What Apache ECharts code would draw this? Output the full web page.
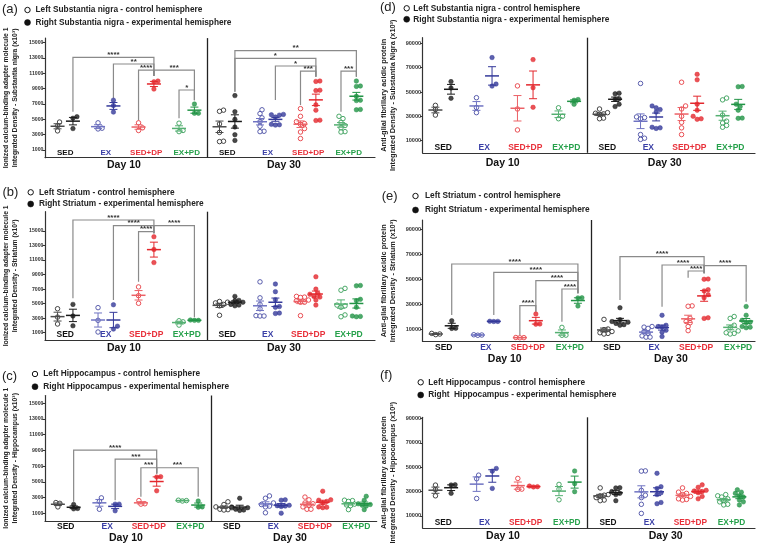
<!DOCTYPE html>
<html><head><meta charset="utf-8">
<script src="https://cdn.jsdelivr.net/npm/echarts@6/dist/echarts.min.js"></script>
<style>html,body{margin:0;padding:0;background:#fff}#c{width:758px;height:551px}</style>
</head><body><div id="c"></div>
<script>
// ================= DATA =================
const groupNames = ['SED', 'EX', 'SED+DP', 'EX+PD'];
const dayNames = ['Day 10', 'Day 30'];
const ibaTicks = [1000, 3000, 5000, 7000, 9000, 11000, 13000, 15000];
const gfapTicks = [10000, 30000, 50000, 70000, 90000];
// each array: Day10 SED, EX, SED+DP, EX+PD, Day30 SED, EX, SED+DP, EX+PD

// (a) Iba1 - Substantia nigra
const aLeft = [
  [4650, 4150, 3500], [4550, 3850, 3750], [4550, 3900, 3550], [4500, 3550, 3400],
  [6200, 6050, 4400, 3300, 2150, 2100], [6250, 5750, 5200, 4700, 4100, 3450, 3400],
  [6400, 5400, 4700, 4450, 4350, 3800, 3350, 2500], [5400, 5100, 4600, 4200, 3900, 3400, 3350]
];
const aRight = [
  [5350, 5150, 3800], [7500, 6800, 5950], [10000, 9900, 8950], [7000, 5800, 5800],
  [8100, 6000, 5000, 4000, 3000, 2250], [5650, 5600, 5550, 5300, 4350, 4300, 4250],
  [10000, 9950, 8800, 8750, 6900, 6200, 4900, 4850], [10000, 9350, 9300, 8000, 7500, 7450, 6300, 6250]
];
const aStars = ['****', '**', '****', '***', '*', '**', '*', '*', '***', '***'];

// (b) Iba1 - Striatum
const bLeft = [
  [4300, 3150, 2200], [4450, 2700, 1100], [7300, 6100, 5050], [2650, 2500, 2050],
  [5300, 5200, 5100, 4900, 4700, 3400], [8000, 5800, 4900, 4300, 3350, 3300, 3300],
  [6000, 5900, 5850, 5500, 5400, 5200, 5200, 3350], [7100, 6850, 4800, 4700, 4500, 3450, 3200]
];
const bRight = [
  [4900, 3300, 1950], [4850, 1900, 1500], [14200, 12450, 10650], [2750, 2700, 2700],
  [6000, 5450, 5400, 5200, 4900, 4800, 4700], [7700, 6650, 5550, 4600, 4500, 3700, 3650],
  [8700, 7000, 6400, 6300, 6000, 5900, 5500, 4800], [7500, 7450, 5600, 5400, 4500, 3300, 3250, 3200]
];
const bStars = ['****', '****', '****', '****'];

// (c) Iba1 - Hippocampus
const cLeft = [
  [2350, 2250, 1800], [2950, 2500, 1500], [2600, 2200, 2150], [2650, 2600, 2550],
  [2450, 2100, 1800, 1700, 1500, 1450, 1400], [3200, 2900, 2300, 2100, 1900, 1800, 1050],
  [3050, 2700, 2300, 2200, 2000, 1800, 1500, 1500], [2650, 2600, 2500, 2150, 2050, 1950, 1450]
];
const cRight = [
  [2100, 1600, 1550], [2150, 2150, 1300], [5650, 5600, 3850], [2550, 1800, 1750],
  [2900, 1800, 1700, 1500, 1400, 1350], [2700, 2650, 2000, 1950, 1900, 1850, 1000],
  [3800, 2700, 2650, 2500, 2300, 1800, 1750, 1700], [3150, 2650, 2200, 2100, 2000, 1900, 1450]
];
const cStars = ['****', '***', '***', '***'];

// (d) GFAP - Substantia nigra
const dLeft = [
  [39000, 35500, 31000], [45300, 37200, 33000], [55000, 36000, 18800], [37000, 30000, 28000],
  [36000, 33000, 32500, 32000, 31500, 28500, 28000], [57000, 29500, 29000, 28000, 15000, 12000, 11000],
  [58000, 38500, 36000, 30000, 25000, 20500, 15000], [45000, 43500, 31000, 26000, 24500, 22500, 21000]
];
const dRight = [
  [58500, 53300, 44800], [78300, 56500, 54800], [76600, 53500, 37400], [43800, 43200, 39900],
  [49000, 48500, 44500, 44000, 40000, 38000], [38500, 37000, 35500, 33500, 21000, 20500, 20000],
  [64500, 60000, 40000, 35000, 30000, 28000, 27500], [54500, 54300, 40000, 38000, 35000, 28500, 28300]
];

// (e) GFAP - Striatum
const eLeft = [
  [6500, 6000, 5500], [5400, 5200, 5000], [3200, 3100, 3000], [11300, 5100, 5000],
  [17700, 10000, 9500, 8000, 7000, 6500, 6000], [12000, 11500, 10500, 8000, 6500, 4500, 3500, 3500],
  [28500, 28200, 18500, 16000, 15000, 12000, 8700], [20000, 18500, 13000, 11000, 8500, 7000, 6500, 6000]
];
const eRight = [
  [16600, 10600, 10500], [16200, 16100, 16000], [22000, 14000, 13900], [35000, 34900, 28400],
  [27000, 17500, 16000, 15500, 14500, 13500, 13000], [21000, 13000, 12000, 11500, 9000, 7500, 4000],
  [50000, 49800, 41500, 40500, 37500, 35000, 19000, 18500], [28000, 21000, 17000, 15500, 15000, 12000, 11500, 11000]
];
const eStars = ['****', '****', '****', '****', '****', '****', '****', '****', '****'];

// (f) GFAP - Hippocampus
const fLeft = [
  [35300, 31500, 26500], [43500, 40500, 24300], [40800, 32000, 31800], [35900, 32000, 23200],
  [33000, 27500, 27000, 26500, 25000, 23000, 22500], [47000, 46800, 31000, 27000, 25000, 19500, 12000],
  [33000, 29500, 28500, 27500, 26000, 24000, 23500, 23000], [27500, 26500, 25500, 24000, 22500, 21500, 19500, 19000]
];
const fRight = [
  [35600, 35400, 28500], [49000, 46800, 32600], [34500, 34000, 33800], [46900, 36500, 29900],
  [33200, 33000, 30000, 28500, 27500, 22500], [45000, 34000, 32500, 29000, 27500, 21000, 20000],
  [35500, 33500, 31000, 30500, 30000, 29000, 26000, 24000], [31500, 29500, 28500, 26500, 25500, 23000, 21500, 19000]
];

// ================= TEXT =================
const ibaTitle = 'Ionized calcium-binding adapter molecule 1';
const gfapTitle = 'Anti-glial fibrillary acidic protein';
const texts = {
  a: { L: 'Left Substantia nigra - control hemisphere', R: 'Right Substantia nigra - experimental hemisphere', y: ibaTitle + '\nIntegrated Density - Substantia nigra (x10³)' },
  b: { L: 'Left Striatum - control hemisphere', R: 'Right Striatum - experimental hemisphere', y: ibaTitle + '\nIntegrated Density - Striatum (x10³)' },
  c: { L: 'Left Hippocampus - control hemisphere', R: 'Right Hippocampus - experimental hemisphere', y: ibaTitle + '\nIntegrated Density - Hippocampus (x10³)' },
  d: { L: 'Left Substantia nigra - control hemisphere', R: 'Right Substantia nigra - experimental hemisphere', y: gfapTitle + '\nIntegrated Density - Substantia Nigra (x10³)' },
  e: { L: 'Left Striatum - control hemisphere', R: 'Right Striatum - experimental hemisphere', y: gfapTitle + '\nIntegrated Density - Striatum (x10³)' },
  f: { L: 'Left Hippocampus - control hemisphere', R: 'Right  Hippocampus - experimental hemisphere', y: gfapTitle + '\nIntegrated Density - Hippocampus (x10³)' }
};

// ================= LAYOUT / STYLE =================
const FONT = '"Liberation Sans", Arial, Helvetica, sans-serif';
const COLORS = ['#1a1a1a', '#34399a', '#e3272d', '#229446'];
const OPEN_LINE = ['#4a4a4a', '#6f73c2', '#ec6166', '#55b072'];
const LABEL_COLORS = ['#111111', '#3a3fa6', '#e8303a', '#26a14b'];
const BRACKET_COLOR = '#8a8a8a';

// brackets: a/b = [day, group, side(0 left,1 right)], y = bar level, ya/yb = leg ends (axis units)
const layouts = {
  a: { left: 45, top: 38.1, width: 330, height: 119.6, xmax: 8.15, ymax: 15600, ticks: ibaTicks, tickFont: 5.2,
       inside: true, gMargin: 1, dMargin: 2, gFont: 8, titleFont: 6.8, nameGap: 26,
       letter: [2, 9], leg: [27.5, 35.5, 10, 22.5], legFont: 8.3,
       brackets: [
         { a: [0, 0, 1], b: [0, 2, 1], y: 13090, ya: 6000, yb: 10650 },
         { a: [0, 1, 1], b: [0, 2, 1], y: 12220, ya: 7740, yb: 10650 },
         { a: [0, 2, 0], b: [0, 2, 1], y: 11430, ya: 4900, yb: 10650 },
         { a: [0, 2, 1], b: [0, 3, 1], y: 11430, ya: 10650, yb: 7500 },
         { a: [0, 3, 0], b: [0, 3, 1], y: 8830, ya: 5130, yb: 7500 },
         { a: [1, 0, 1], b: [1, 3, 1], y: 13960, ya: 8610, yb: 10560 },
         { a: [1, 0, 1], b: [1, 2, 1], y: 12960, ya: 8610, yb: 10560 },
         { a: [1, 1, 1], b: [1, 2, 1], y: 11960, ya: 7520, yb: 10560 },
         { a: [1, 2, 0], b: [1, 2, 1], y: 11300, ya: 6870, yb: 10560 },
         { a: [1, 3, 0], b: [1, 3, 1], y: 11300, ya: 6000, yb: 10560 }
       ], stars: aStars },
  b: { left: 45, top: 211.7, width: 330, height: 128.3, xmax: 8.15, ymax: 17650, ticks: ibaTicks, tickFont: 5.2,
       inside: true, gMargin: 1, dMargin: 3, gFont: 8.5, titleFont: 6.8, nameGap: 26,
       letter: [2.5, 192.5], leg: [30.7, 39, 192.3, 204], legFont: 8.3,
       brackets: [
         { a: [0, 0, 1], b: [0, 2, 1], y: 16510, ya: 5730, yb: 14680 },
         { a: [0, 1, 1], b: [0, 2, 1], y: 15730, ya: 5500, yb: 14680 },
         { a: [0, 2, 0], b: [0, 2, 1], y: 14910, ya: 8030, yb: 14680 },
         { a: [0, 2, 1], b: [0, 3, 1], y: 15730, ya: 14680, yb: 3120 }
       ], stars: bStars },
  c: { left: 45, top: 395.5, width: 331.7, height: 125.5, xmax: 7.99, ymax: 16000, ticks: ibaTicks, tickFont: 5.2,
       inside: false, gMargin: 1, dMargin: 12, gFont: 8.5, titleFont: 6.8, nameGap: 26,
       letter: [2, 376.7], leg: [35, 43.3, 374, 386.7], legFont: 8.3,
       brackets: [
         { a: [0, 0, 1], b: [0, 2, 1], y: 9040, ya: 2450, yb: 6040 },
         { a: [0, 1, 1], b: [0, 2, 1], y: 7890, ya: 2660, yb: 6040 },
         { a: [0, 2, 0], b: [0, 2, 1], y: 6790, ya: 3090, yb: 6040 },
         { a: [0, 2, 1], b: [0, 3, 1], y: 6790, ya: 6040, yb: 3090 }
       ], stars: cStars },
  d: { left: 422.7, top: 37.7, width: 332.3, height: 115.1, xmax: 8.1, ymax: 94600, ticks: gfapTicks, tickFont: 5.6,
       inside: true, gMargin: 1, dMargin: 5, gFont: 8.5, titleFont: 7.4, nameGap: 25,
       letter: [380, 7.5], leg: [406.7, 413.3, 8.3, 19.3], legFont: 8.3,
       brackets: [], stars: [] },
  e: { left: 422.7, top: 220, width: 332.3, height: 121.5, xmax: 7.9, ymax: 97200, ticks: gfapTicks, tickFont: 5.6,
       inside: false, gMargin: 2, dMargin: 12, gFont: 8.5, titleFont: 7.4, nameGap: 25,
       letter: [381.7, 196.7], leg: [415.5, 425, 196, 210], legFont: 8.3,
       brackets: [
         { a: [0, 0, 1], b: [0, 3, 1], y: 62000, ya: 21200, yb: 38560 },
         { a: [0, 1, 1], b: [0, 3, 1], y: 55360, ya: 21200, yb: 38560 },
         { a: [0, 2, 1], b: [0, 3, 1], y: 48640, ya: 23840, yb: 38560 },
         { a: [0, 3, 0], b: [0, 3, 1], y: 42000, ya: 15840, yb: 38560 },
         { a: [0, 2, 0], b: [0, 2, 1], y: 28640, ya: 5200, yb: 23840 },
         { a: [1, 0, 1], b: [1, 2, 1], y: 67840, ya: 33200, yb: 54560 },
         { a: [1, 1, 1], b: [1, 2, 1], y: 61200, ya: 27840, yb: 54560 },
         { a: [1, 2, 0], b: [1, 2, 1], y: 56400, ya: 51040, yb: 54560 },
         { a: [1, 2, 1], b: [1, 3, 1], y: 60640, ya: 54560, yb: 31840 }
       ], stars: eStars },
  f: { left: 422.7, top: 417.3, width: 332.3, height: 110.7, xmax: 8.07, ymax: 91100, ticks: gfapTicks, tickFont: 5.6,
       inside: true, gMargin: 1, dMargin: 3, gFont: 8.3, titleFont: 7.4, nameGap: 25,
       letter: [380, 375.7], leg: [420.7, 428.3, 382.3, 395], legFont: 8.3,
       brackets: [], stars: [] }
};
const panelData = { a: [aLeft, aRight], b: [bLeft, bRight], c: [cLeft, cRight], d: [dLeft, dRight], e: [eLeft, eRight], f: [fLeft, fRight] };

const PAIR_OFF = 0.19;
function colX(day, g, side) { return day * 4 + g + 0.5 + (side ? PAIR_OFF : -PAIR_OFF); }

function swarm(vals, cx, pxX, pxY) {
  const R = 4.0;
  const order = vals.map((v, i) => i).sort((a, b) => vals[a] - vals[b]);
  const placed = [], out = [];
  const cands = [0];
  for (let k = 1; k <= 12; k++) cands.push(k * 2.0, -k * 2.0);
  order.forEach(i => {
    const py = vals[i] * pxY;
    let chosen = 0;
    for (const c of cands) {
      if (placed.every(p => Math.hypot(p[0] - c, p[1] - py) >= R)) { chosen = c; break; }
    }
    placed.push([chosen, py]);
    out[i] = [cx + chosen / pxX, vals[i]];
  });
  return out;
}
function meanSem(v) {
  const n = v.length, m = v.reduce((s, x) => s + x, 0) / n;
  const sd = Math.sqrt(v.reduce((s, x) => s + (x - m) * (x - m), 0) / (n - 1));
  return [m, sd / Math.sqrt(n)];
}

const option = { animation: false, grid: [], xAxis: [], yAxis: [], series: [], graphic: [] };
const rich = {};
groupNames.forEach((g, i) => { rich['g' + i] = { color: LABEL_COLORS[i], fontWeight: 'bold', fontFamily: FONT }; });

Object.keys(layouts).forEach((key, pi) => {
  const L = layouts[key];
  const [left, right] = panelData[key];
  const T = texts[key];
  option.grid.push({ left: L.left, top: L.top, width: L.width, height: L.height });
  const groupRich = {};
  Object.keys(rich).forEach(k => { groupRich[k] = Object.assign({ fontSize: L.gFont }, rich[k]); });
  option.xAxis.push({
    type: 'value', gridIndex: pi, min: 0, max: L.xmax, position: 'bottom',
    axisLine: { show: true, onZero: false, lineStyle: { color: '#333', width: 1.2 } },
    axisTick: { show: false }, splitLine: { show: false },
    axisLabel: {
      inside: L.inside, margin: L.gMargin, customValues: [0.5, 1.5, 2.5, 3.5, 4.5, 5.5, 6.5, 7.5],
      formatter: v => { const g = Math.floor(v) % 4; return '{g' + g + '|' + groupNames[g] + '}'; },
      rich: groupRich
    }
  });
  option.xAxis.push({
    type: 'value', gridIndex: pi, min: 0, max: L.xmax, position: 'bottom',
    axisLine: { show: false, onZero: false }, axisTick: { show: false }, splitLine: { show: false },
    axisLabel: { margin: L.dMargin, customValues: [1.95, 5.9], formatter: v => (v < 4 ? dayNames[0] : dayNames[1]),
      fontSize: 10.5, fontWeight: 'bold', color: '#111', fontFamily: FONT }
  });
  option.yAxis.push({
    type: 'value', gridIndex: pi, min: 0, max: L.ymax,
    axisLine: { show: true, onZero: false, lineStyle: { color: '#333', width: 1.2 } },
    axisTick: { show: true, length: 2.5, customValues: L.ticks, lineStyle: { color: '#333' } },
    axisLabel: { customValues: L.ticks, margin: 1.5, fontSize: L.tickFont, fontWeight: 'bold', color: '#333', fontFamily: FONT,
      formatter: v => String(v) },
    splitLine: { show: false },
    name: T.y, nameLocation: 'middle', nameRotate: 90, nameGap: L.nameGap,
    nameTextStyle: { fontSize: L.titleFont, fontWeight: 'bold', color: '#222', fontFamily: FONT, lineHeight: L.titleFont + 1.5 }
  });

  const pxX = L.width / L.xmax, pxY = L.height / L.ymax;
  const pts = [], means = [];
  [left, right].forEach((arr, side) => {
    arr.forEach((vals, k) => {
      const day = Math.floor(k / 4), g = k % 4;
      const cx = colX(day, g, side);
      swarm(vals, cx, pxX, pxY).forEach(p => {
        pts.push({ value: p, itemStyle: side ? { color: COLORS[g], borderColor: COLORS[g], borderWidth: 0.6 }
                                             : { color: '#ffffff', borderColor: COLORS[g], borderWidth: 1 } });
      });
      const [m, s] = meanSem(vals);
      means.push([cx, m, s, g, side]);
    });
  });

  option.series.push({
    type: 'scatter', xAxisIndex: 2 * pi, yAxisIndex: pi, data: pts, symbol: 'circle', symbolSize: 4.5,
    silent: true, z: 3,
    markLine: { silent: true, symbol: ['none', 'none'], label: { show: false }, animation: false,
      lineStyle: { color: '#222', width: 1.3, type: 'solid' }, data: [{ xAxis: 4 }] }
  });
  option.series.push({
    type: 'custom', xAxisIndex: 2 * pi, yAxisIndex: pi, data: means, encode: { x: 0, y: 1 }, silent: true, z: 4, clip: false,
    renderItem: (params, api) => {
      const x = api.value(0), m = api.value(1), s = api.value(2), g = api.value(3), side = api.value(4);
      const col = side ? COLORS[g] : OPEN_LINE[g];
      const pm = api.coord([x, m]), pt = api.coord([x, m + s]), pb = api.coord([x, m - s]);
      return { type: 'group', children: [
        { type: 'line', shape: { x1: pm[0] - 7, y1: pm[1], x2: pm[0] + 7, y2: pm[1] }, style: { stroke: col, lineWidth: 1.5 } },
        { type: 'line', shape: { x1: pt[0], y1: pt[1], x2: pb[0], y2: pb[1] }, style: { stroke: col, lineWidth: 1 } },
        { type: 'line', shape: { x1: pt[0] - 4, y1: pt[1], x2: pt[0] + 4, y2: pt[1] }, style: { stroke: col, lineWidth: 1 } },
        { type: 'line', shape: { x1: pb[0] - 4, y1: pb[1], x2: pb[0] + 4, y2: pb[1] }, style: { stroke: col, lineWidth: 1 } }
      ] };
    }
  });
  if (L.brackets.length) {
    const bdata = L.brackets.map(b => [colX(b.a[0], b.a[1], b.a[2]), colX(b.b[0], b.b[1], b.b[2]), b.y, b.ya, b.yb]);
    option.series.push({
      type: 'custom', xAxisIndex: 2 * pi, yAxisIndex: pi, data: bdata, encode: { x: [0, 1], y: 2 }, silent: true, z: 2, clip: false,
      renderItem: (params, api) => {
        const xa = api.value(0), xb = api.value(1), y = api.value(2), ya = api.value(3), yb = api.value(4);
        const p0 = api.coord([xa, ya]), p1 = api.coord([xa, y]), p2 = api.coord([xb, y]), p3 = api.coord([xb, yb]);
        return { type: 'group', children: [
          { type: 'polyline', shape: { points: [p0, p1, p2, p3] }, style: { stroke: BRACKET_COLOR, lineWidth: 1.2, fill: null } },
          { type: 'text', x: (p1[0] + p2[0]) / 2, y: p1[1] + 1.5,
            style: { text: L.stars[params.dataIndex], align: 'center', verticalAlign: 'bottom', fill: '#333',
              fontSize: 8, fontWeight: 'bold', fontFamily: FONT } }
        ] };
      }
    });
  }

  // panel letter + legend
  option.graphic.push(
    { type: 'text', x: L.letter[0], y: L.letter[1], style: { text: '(' + key + ')', fontSize: 13, fontFamily: FONT, fill: '#222', verticalAlign: 'middle' } },
    { type: 'circle', shape: { cx: L.leg[0], cy: L.leg[2], r: 2.7 }, style: { fill: '#fff', stroke: '#111', lineWidth: 1 } },
    { type: 'text', x: L.leg[1], y: L.leg[2], style: { text: T.L, fontSize: L.legFont, fontWeight: 'bold', fontFamily: FONT, fill: '#222', verticalAlign: 'middle' } },
    { type: 'circle', shape: { cx: L.leg[0], cy: L.leg[3], r: 3 }, style: { fill: '#111', stroke: '#111', lineWidth: 0.5 } },
    { type: 'text', x: L.leg[1], y: L.leg[3], style: { text: T.R, fontSize: L.legFont, fontWeight: 'bold', fontFamily: FONT, fill: '#222', verticalAlign: 'middle' } }
  );
});

const chart = echarts.init(document.getElementById('c'), null, { renderer: 'canvas' });
chart.setOption(option);
</script>
</body></html>
